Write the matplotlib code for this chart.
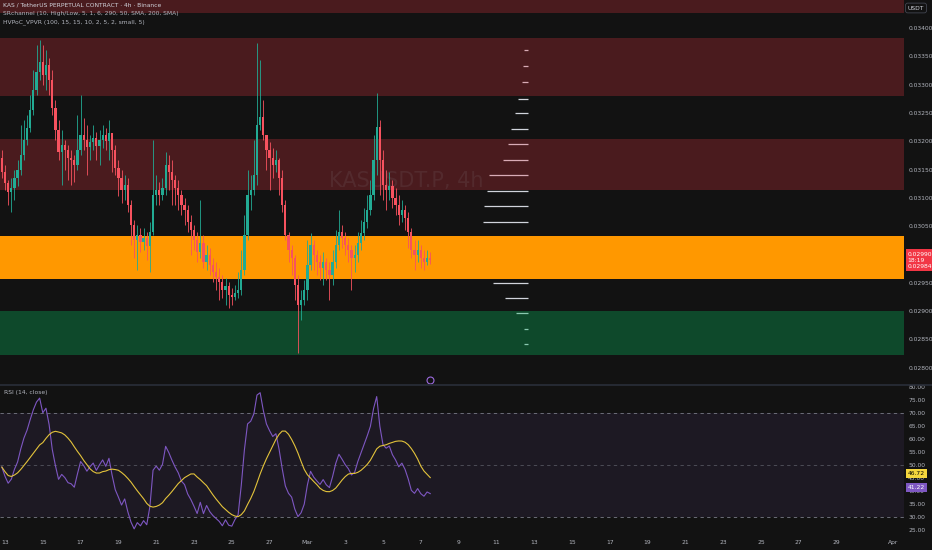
import matplotlib
matplotlib.use('Agg')
import matplotlib.pyplot as plt
import matplotlib.dates as mdates
from matplotlib.lines import Line2D
import matplotlib.transforms as mtransforms
from datetime import datetime, timedelta
import numpy as np
import pandas as pd

# 4h candles, KAS/USDT perp
first_time = datetime(2025, 2, 12, 20)
first_open = 0.03170
closes = [
    0.03146, 0.03126, 0.03110, 0.03117, 0.03135, 0.03149, 0.03176, 0.03202, 0.03223, 0.03255,
    0.03290, 0.03322, 0.03340, 0.03317, 0.03335, 0.03308, 0.03259, 0.03220, 0.03181, 0.03193,
    0.03184, 0.03170, 0.03167, 0.03158, 0.03184, 0.03211, 0.03202, 0.03190, 0.03199, 0.03206,
    0.03192, 0.03202, 0.03211, 0.03200, 0.03214, 0.03184, 0.03153, 0.03135, 0.03114, 0.03123,
    0.03087, 0.03052, 0.03025, 0.03034, 0.03022, 0.03029, 0.03015, 0.03040, 0.03105, 0.03114,
    0.03105, 0.03117, 0.03158, 0.03146, 0.03131, 0.03117, 0.03105, 0.03087, 0.03079, 0.03057,
    0.03043, 0.03025, 0.03004, 0.03020, 0.02987, 0.02999, 0.02981, 0.02969, 0.02960, 0.02951,
    0.02937, 0.02944, 0.02928, 0.02925, 0.02932, 0.02937, 0.02972, 0.03034, 0.03105, 0.03114,
    0.03140, 0.03229, 0.03243, 0.03211, 0.03184, 0.03170, 0.03158, 0.03167, 0.03135, 0.03087,
    0.03034, 0.03008, 0.02994, 0.02946, 0.02911, 0.02919, 0.02937, 0.02981, 0.03017, 0.02999,
    0.02987, 0.02976, 0.02987, 0.02972, 0.02964, 0.02987, 0.03017, 0.03040, 0.03029, 0.03017,
    0.03008, 0.02994, 0.02999, 0.03020, 0.03038, 0.03057, 0.03079, 0.03105, 0.03167, 0.03225,
    0.03167, 0.03123, 0.03114, 0.03121, 0.03100, 0.03087, 0.03070, 0.03079, 0.03064, 0.03040,
    0.03008, 0.02999, 0.03008, 0.02994, 0.02987, 0.02994, 0.02990,
]
highs = [
    0.03184, 0.03158, 0.03131, 0.03135, 0.03149, 0.03167, 0.03229, 0.03237, 0.03246, 0.03282,
    0.03326, 0.03370, 0.03379, 0.03370, 0.03361, 0.03347, 0.03326, 0.03273, 0.03237, 0.03220,
    0.03202, 0.03193, 0.03184, 0.03176, 0.03246, 0.03282, 0.03241, 0.03229, 0.03211, 0.03229,
    0.03216, 0.03220, 0.03229, 0.03223, 0.03237, 0.03206, 0.03193, 0.03167, 0.03149, 0.03140,
    0.03135, 0.03096, 0.03061, 0.03052, 0.03047, 0.03047, 0.03040, 0.03057, 0.03202, 0.03140,
    0.03128, 0.03135, 0.03181, 0.03176, 0.03167, 0.03140, 0.03131, 0.03114, 0.03100, 0.03087,
    0.03070, 0.03052, 0.03040, 0.03096, 0.03034, 0.03017, 0.03011, 0.02994, 0.02987, 0.02976,
    0.02964, 0.02958, 0.02951, 0.02941, 0.02946, 0.02969, 0.03008, 0.03070, 0.03149, 0.03140,
    0.03202, 0.03373, 0.03343, 0.03273, 0.03211, 0.03199, 0.03188, 0.03184, 0.03170, 0.03149,
    0.03096, 0.03040, 0.03017, 0.02999, 0.02964, 0.02937, 0.02955, 0.03025, 0.03038, 0.03025,
    0.03008, 0.02999, 0.03004, 0.02994, 0.02987, 0.03008, 0.03043, 0.03079, 0.03052, 0.03040,
    0.03029, 0.03017, 0.03017, 0.03040, 0.03061, 0.03082, 0.03105, 0.03131, 0.03211, 0.03285,
    0.03237, 0.03184, 0.03149, 0.03146, 0.03131, 0.03117, 0.03105, 0.03096, 0.03087, 0.03075,
    0.03047, 0.03025, 0.03025, 0.03017, 0.03008, 0.03008, 0.03004,
]
lows = [
    0.03135, 0.03114, 0.03087, 0.03075, 0.03096, 0.03121, 0.03140, 0.03167, 0.03193, 0.03216,
    0.03246, 0.03282, 0.03308, 0.03299, 0.03290, 0.03282, 0.03246, 0.03202, 0.03167, 0.03123,
    0.03149, 0.03131, 0.03123, 0.03128, 0.03149, 0.03176, 0.03184, 0.03140, 0.03167, 0.03184,
    0.03167, 0.03158, 0.03188, 0.03184, 0.03167, 0.03146, 0.03140, 0.03103, 0.03091, 0.03096,
    0.03075, 0.03017, 0.02994, 0.02972, 0.03004, 0.03008, 0.02990, 0.02969, 0.03034, 0.03087,
    0.03087, 0.03096, 0.03105, 0.03114, 0.03087, 0.03087, 0.03079, 0.03070, 0.03052, 0.03040,
    0.02999, 0.03008, 0.02987, 0.02994, 0.02976, 0.02972, 0.02964, 0.02951, 0.02937, 0.02919,
    0.02923, 0.02911, 0.02905, 0.02911, 0.02919, 0.02923, 0.02928, 0.02964, 0.03025, 0.03079,
    0.03105, 0.03123, 0.03220, 0.03202, 0.03149, 0.03114, 0.03135, 0.03146, 0.03105, 0.03075,
    0.03025, 0.02987, 0.02964, 0.02919, 0.02826, 0.02884, 0.02911, 0.02919, 0.02972, 0.02972,
    0.02964, 0.02955, 0.02946, 0.02955, 0.02919, 0.02946, 0.02976, 0.03008, 0.03011, 0.02999,
    0.02987, 0.02937, 0.02969, 0.02987, 0.03008, 0.03025, 0.03047, 0.03070, 0.03096, 0.03140,
    0.03105, 0.03096, 0.03079, 0.03096, 0.03082, 0.03070, 0.03052, 0.03057, 0.03043, 0.03011,
    0.02994, 0.02972, 0.02987, 0.02976, 0.02972, 0.02981, 0.02983,
]

# RSI state at the left edge (older bars are off screen); RSI there reads about 54
rsi_len = 14
seed_avg_up = 0.000105
seed_avg_down = 0.000090

# support / resistance zones (low, high, kind)
zone_lows = [0.03427, 0.03280, 0.03114, 0.02957, 0.02822]
zone_highs = [0.03470, 0.03382, 0.03204, 0.03033, 0.02900]
zone_kinds = ['res', 'res', 'res', 'mid', 'sup']

# visible range volume profile rows
vp_prices = [0.02842, 0.02868, 0.02896, 0.02923, 0.02950, 0.02976, 0.03003, 0.03029,
             0.03057, 0.03086, 0.03112, 0.03140, 0.03167, 0.03195, 0.03222, 0.03250,
             0.03275, 0.03305, 0.03333, 0.03361]
vp_volumes = [4, 4, 12, 23, 35, 48, 52, 50, 45, 44, 41, 39, 25, 20, 17, 13, 10, 6, 5, 4]

# 0.03000 sits under the last-price tag, so it is not shown
price_ticks = [0.02800, 0.02850, 0.02900, 0.02950, 0.03050, 0.03100,
               0.03150, 0.03200, 0.03250, 0.03300, 0.03350, 0.03400]
rsi_ticks = [25, 30, 35, 40, 45, 50, 55, 60, 65, 70, 75, 80]

tick_dates = [datetime(2025, 2, d) for d in [13, 15, 17, 19, 21, 23, 25, 27]] + \
             [datetime(2025, 3, d) for d in [1, 3, 5, 7, 9, 11, 13, 15, 17, 19, 21, 23, 25, 27, 29]] + \
             [datetime(2025, 4, 1)]
tick_labels = ['13', '15', '17', '19', '21', '23', '25', '27', 'Mar', '3', '5', '7', '9', '11',
               '13', '15', '17', '19', '21', '23', '25', '27', '29', 'Apr']

BG = '#121212'
TXT = '#b2b5be'
UP = '#22ab94'
DOWN = '#f7525f'
W, H = 932, 550
PX_PER_DAY = 18.9


def wilder_rsi(opens, closes, n, avg_up, avg_down):
    out = []
    for o_, c_ in zip(opens, closes):
        ch = c_ - o_
        avg_up = (avg_up * (n - 1) + max(ch, 0)) / n
        avg_down = (avg_down * (n - 1) + max(-ch, 0)) / n
        out.append(100 - 100 / (1 + avg_up / avg_down))
    return np.array(out)


def main():
    fig = plt.figure(figsize=(W / 100, H / 100), dpi=100, facecolor=BG)
    ax = fig.add_axes([0, 165 / H, 904 / W, 385 / H], facecolor=BG)
    ax_rsi = fig.add_axes([0, 18 / H, 904 / W, 146 / H], facecolor=BG, sharex=ax)

    times = mdates.date2num([first_time + timedelta(hours=4 * i) for i in range(len(closes))])
    c = np.array(closes)
    o = np.concatenate([[first_open], c[:-1]])
    hi = np.maximum(np.array(highs), np.maximum(o, c))
    lo = np.minimum(np.array(lows), np.minimum(o, c))

    x_left = mdates.date2num(datetime(2025, 2, 13)) - 5 / PX_PER_DAY
    x_right = x_left + 904 / PX_PER_DAY
    ax.set_xlim(x_left, x_right)
    ax.set_ylim(0.027693, 0.034495)

    # zones
    for z_lo, z_hi, kind in zip(zone_lows, zone_highs, zone_kinds):
        if kind == 'res':
            col, a = '#f23645', 0.25
        elif kind == 'mid':
            col, a = '#ff9800', 1.0
        else:
            col, a = '#07b25c', 0.35
        ax.axhspan(z_lo, z_hi, color=col, alpha=a, lw=0, zorder=2)

    # volume profile lines
    vp_end = mdates.date2num(datetime(2025, 3, 12, 16))
    vp_len = np.array(vp_volumes) / PX_PER_DAY
    ax.hlines(vp_prices, vp_end - vp_len, vp_end, color='#d1d4dc', lw=0.9, zorder=1)

    # watermark
    ax.text(mdates.date2num(datetime(2025, 3, 6, 6)), 0.03130, 'KASUSDT.P, 4h', color='#9598a1',
            alpha=0.12, fontsize=15, ha='center', va='center', zorder=3)

    # candles
    colors = np.where(c >= o, UP, DOWN)
    ax.vlines(times, lo, hi, colors=colors, lw=0.6, zorder=4)
    body = np.maximum(np.abs(c - o), 0.000015)
    ax.bar(times, body, bottom=np.minimum(o, c), width=4 / 24 * 0.7, color=colors,
           lw=0, zorder=5)

    # price axis
    ax.yaxis.tick_right()
    ax.set_yticks(price_ticks)
    ax.set_yticklabels(['%.5f' % p for p in price_ticks])
    ax.tick_params(axis='y', length=0, pad=3, labelsize=4.3, labelcolor=TXT)
    ax.tick_params(axis='x', length=0, labelbottom=False)
    for s in ax.spines.values():
        s.set_visible(False)

    trans = mtransforms.blended_transform_factory(ax.transAxes, ax.transData)
    ax.text(1.004, closes[-1], '0.02990\n18:19\n0.02984', transform=trans, ha='left', va='center',
            fontsize=4.3, color='white', linespacing=1.25,
            bbox=dict(boxstyle='square,pad=0.35', fc='#f23645', ec='none'), zorder=10)

    # event marker
    mtrans = mtransforms.blended_transform_factory(ax.transData, ax.transAxes)
    ax.plot([times[-1]], [0.013], marker='o', ms=5, mfc=BG, mec='#9c6ade', mew=0.8,
            transform=mtrans, clip_on=False, zorder=10)

    # RSI
    rsi = wilder_rsi(o, c, rsi_len, seed_avg_up, seed_avg_down)
    rsi_ma = pd.Series(rsi).rolling(14, min_periods=1).mean()

    ax_rsi.set_ylim(24.2, 80.4)
    ax_rsi.axhspan(30, 70, color='#7e57c2', alpha=0.1, lw=0)
    for lvl, a in [(70, 1), (50, 0.6), (30, 1)]:
        ax_rsi.axhline(lvl, color='#787b86', lw=0.6, ls=(0, (4, 4)), alpha=a)
    ax_rsi.plot(times, rsi, color='#7e57c2', lw=0.8)
    ax_rsi.plot(times, rsi_ma, color='#e3c33b', lw=0.8)

    ax_rsi.yaxis.tick_right()
    ax_rsi.set_yticks(rsi_ticks)
    ax_rsi.set_yticklabels(['%.2f' % v for v in rsi_ticks])
    ax_rsi.tick_params(axis='y', length=0, pad=3, labelsize=4.3, labelcolor=TXT)
    ax_rsi.set_xticks(mdates.date2num(tick_dates))
    ax_rsi.set_xticklabels(tick_labels)
    ax_rsi.tick_params(axis='x', length=0, pad=5.5, labelsize=4.3, labelcolor=TXT)
    for s_ in ax_rsi.spines.values():
        s_.set_visible(False)

    rtrans = mtransforms.blended_transform_factory(ax_rsi.transAxes, ax_rsi.transData)
    ax_rsi.text(1.004, 46.72, '46.72', transform=rtrans, ha='left', va='center', fontsize=4.3,
                color='black', bbox=dict(boxstyle='square,pad=0.3', fc='#f5d63d', ec='none'),
                zorder=10)
    ax_rsi.text(1.004, 41.22, '41.22', transform=rtrans, ha='left', va='center', fontsize=4.3,
                color='white', bbox=dict(boxstyle='square,pad=0.3', fc='#7e57c2', ec='none'),
                zorder=10)
    ax_rsi.text(4 / 904, 0.955, 'RSI (14, close)', transform=ax_rsi.transAxes, fontsize=4.3,
                color=TXT, va='center')

    # pane separator
    fig.add_artist(Line2D([0, 1], [165 / H, 165 / H], color='#2a2e39', lw=1.2))

    # header legend
    fig.text(3 / W, 1 - 5 / H, 'KAS / TetherUS PERPETUAL CONTRACT · 4h · Binance', fontsize=4.3,
             color='#d1d4dc', va='center')
    fig.text(3 / W, 1 - 13.5 / H, 'SRchannel (10, High/Low, 5, 1, 6, 290, 50, SMA, 200, SMA)',
             fontsize=4.3, color=TXT, va='center')
    fig.text(3 / W, 1 - 22 / H, 'HVPoC_VPVR (100, 15, 15, 10, 2, 5, 2, small, 5)', fontsize=4.3,
             color=TXT, va='center')
    fig.text(916 / W, 1 - 8 / H, 'USDT', fontsize=4.3, color='#d1d4dc', ha='center', va='center',
             bbox=dict(boxstyle='round,pad=0.4', fc=BG, ec='#434651', lw=0.6))

    fig.savefig('out.png', dpi=100, facecolor=BG)


if __name__ == "__main__":
    main()
